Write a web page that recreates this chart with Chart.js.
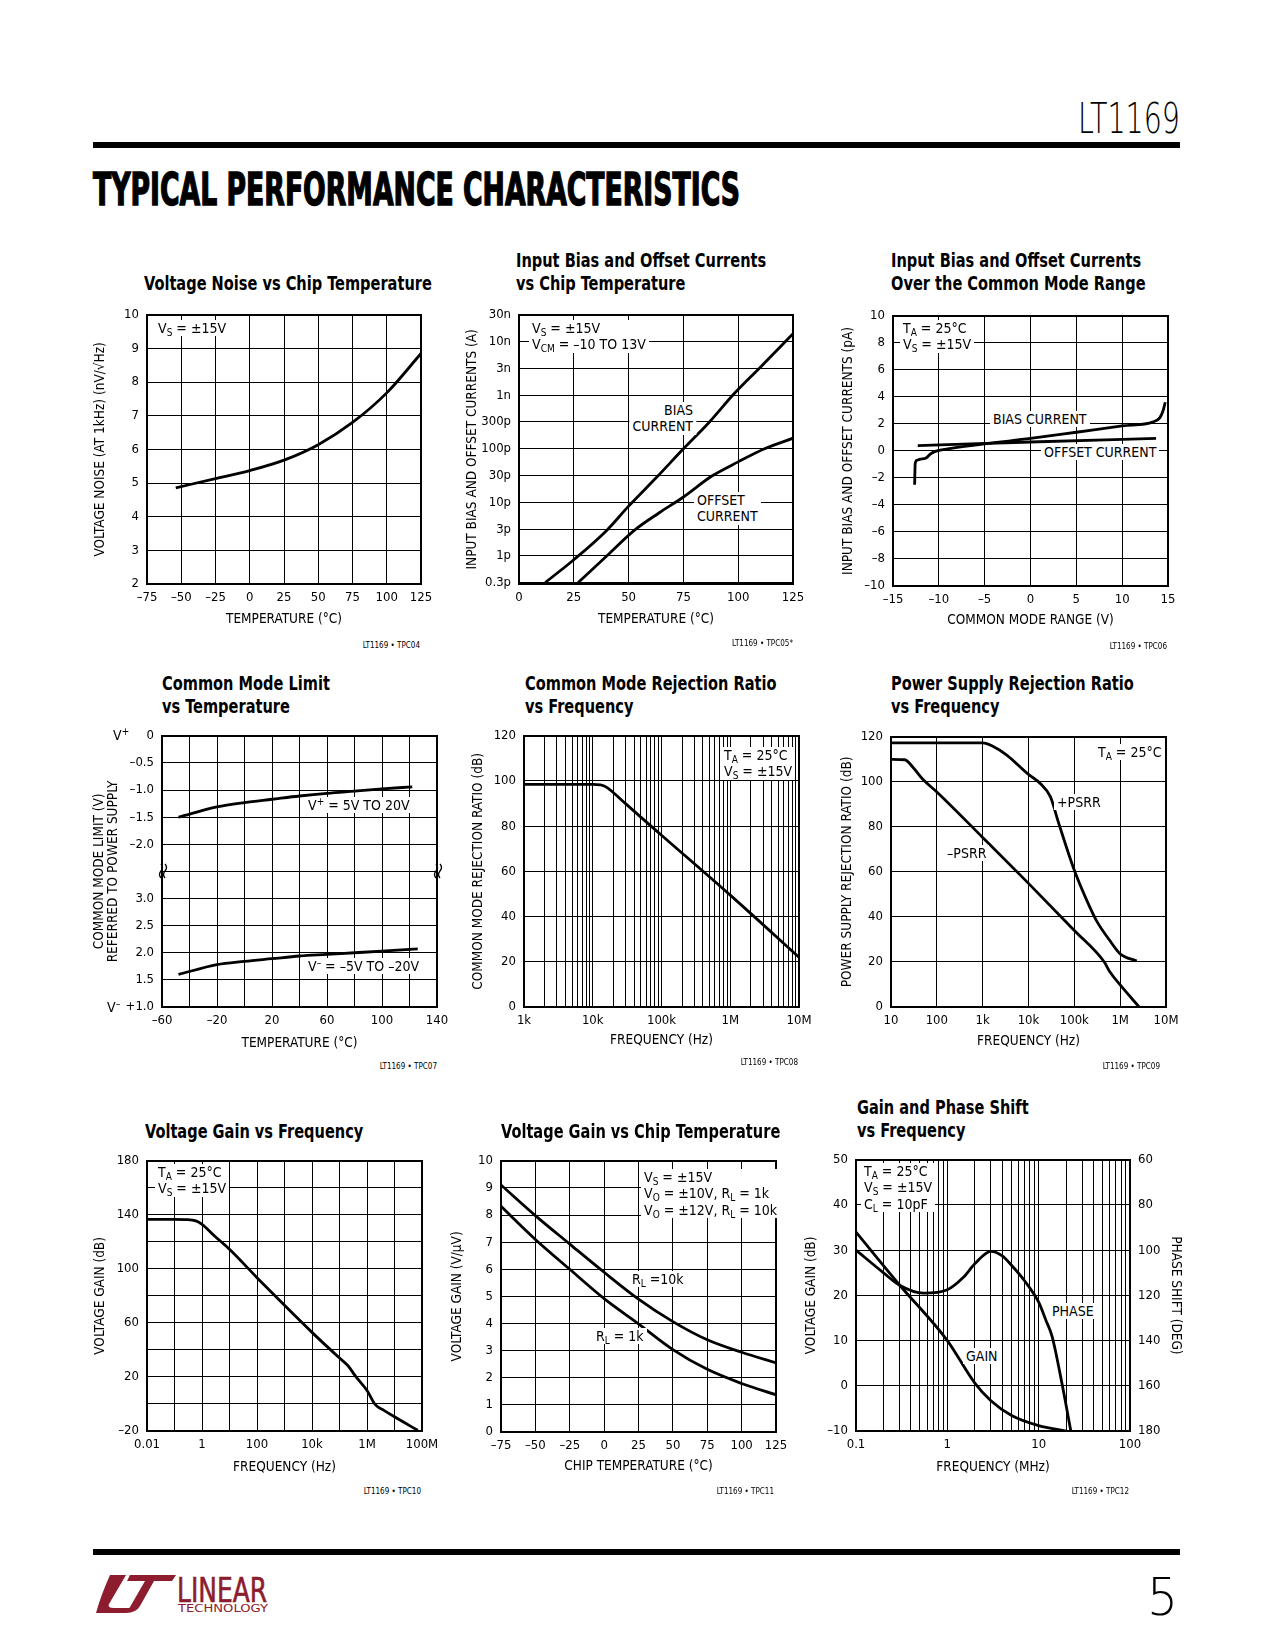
<!DOCTYPE html>
<html lang="en">
<head>
<meta charset="UTF-8">
<title>LT1169 – Typical Performance Characteristics</title>
<script src="https://cdn.jsdelivr.net/npm/chart.js"></script>
<style>
  body { margin: 0; background: #fff; }
  #page { position: relative; width: 1275px; height: 1650px; overflow: hidden; color: #000;
          font-family: "Liberation Sans Narrow", "DejaVu Sans Condensed", "Arial Narrow", sans-serif; }
  canvas { position: absolute; }
  .rule { position: absolute; left: 93px; width: 1087px; height: 6px; background: #000; }
  .ttl { position: absolute; font-weight: bold; font-size: 20px; line-height: 23px; white-space: nowrap;
         transform: scaleX(0.81); transform-origin: left top; }
  .note { position: absolute; font-size: 14px; line-height: 16.5px; background: #fff; padding: 0 3px; white-space: nowrap; }
  .note sub { font-size: 10px; vertical-align: -3px; line-height: 0; }
  .note sup { font-size: 10px; vertical-align: 5px; line-height: 0; }
  .tpc { position: absolute; font-size: 8px; line-height: 10px; white-space: nowrap; transform: translateX(-100%); }
  .fit { position: absolute; display: inline-block; white-space: nowrap; line-height: 1; transform-origin: left top; }
  .thin { font-family: "DejaVu Sans ExtraLight", "DejaVu Sans Light", "DejaVu Sans Condensed", sans-serif; font-weight: 200; }
  .brk { position: absolute; }
</style>
</head>
<body>
<div id="page">
  <div class="rule" style="top:142px"></div>
  <div class="rule" style="top:1549px"></div>
  <span class="fit thin" id="hdr" style="font-size:43px;top:97px;left:1078px">LT1169</span>
  <span class="fit" id="sect" style="font-size:44px;font-weight:bold;top:168px;left:93px;-webkit-text-stroke:1.4px #000">TYPICAL PERFORMANCE CHARACTERISTICS</span>
  <span class="fit thin" id="pnum" style="font-size:52px;top:1571px;left:1147px">5</span>
  <svg style="position:absolute;left:96px;top:1575px" width="80" height="38" viewBox="0 0 80 38">
    <path fill="#8c1c2e" d="M14 0 L30 0 L13 29 Q11 33 18 33 L34 33 L31 38 L0 38 Q5 20 14 0 Z"/>
    <path fill="#8c1c2e" d="M34 0 L80 0 L76 6 L58 6 L44 31 Q40 38 30 38 L34 32 L49 6 L31 6 Z"/>
  </svg>
  <span class="fit" id="lin" style="font-size:34px;top:1573px;left:177px;color:#8c1c2e;-webkit-text-stroke:0.6px #8c1c2e">LINEAR</span>
  <span class="fit" id="tech" style="font-size:11px;top:1603px;left:178px;color:#8c1c2e">TECHNOLOGY</span>
</div>
<script>
// ---------- data ----------
// shared tick sets
const temp25Ticks = [-75, -50, -25, 0, 25, 50, 75, 100, 125];
const temp25Labels = ['–75', '–50', '–25', '0', '25', '50', '75', '100', '125'];
const dbTicks = [0, 20, 40, 60, 80, 100, 120];
const dbLabels = ['0', '20', '40', '60', '80', '100', '120'];

// 1. voltage noise vs chip temperature
const noiseTemp = [-54, -25, 0, 25, 50, 75, 100, 125];
const noiseNv = [4.86, 5.13, 5.37, 5.68, 6.14, 6.8, 7.68, 8.85];
const noiseTicks = [2, 3, 4, 5, 6, 7, 8, 9, 10];
const noiseLabels = ['2', '3', '4', '5', '6', '7', '8', '9', '10'];

// 2. input bias / offset currents vs chip temperature
const biasTemp = [12, 25, 40, 50, 63, 75, 87, 98, 110, 125];
const biasAmps = [0.32e-12, 0.85e-12, 3.0e-12, 8.5e-12, 30e-12, 100e-12, 320e-12, 1.05e-9, 3.3e-9, 14e-9];
const offsTemp = [27, 40, 53, 64, 75, 88, 100, 112, 125];
const offsAmps = [0.32e-12, 1.0e-12, 3.1e-12, 6.4e-12, 12.6e-12, 31e-12, 57e-12, 100e-12, 158e-12];
const curTempTicks = [0, 25, 50, 75, 100, 125];
const curTempLabels = ['0', '25', '50', '75', '100', '125'];
const ampExp = [-12.5, -12, -11.5, -11, -10.5, -10, -9.5, -9, -8.5, -8, -7.5];
const ampLabels = ['0.3p', '1p', '3p', '10p', '30p', '100p', '300p', '1n', '3n', '10n', '30n'];

// 3. bias / offset currents over the common mode range
const cmBiasV = [-12.64, -12.58, -12.4, -12.1, -11.4, -10.9, -10.45, -9.7, -5, 0, 5, 10, 13.4, 14.1, 14.45, 14.7];
const cmBiasPa = [-2.5, -0.95, -0.7, -0.62, -0.53, -0.22, -0.05, 0.07, 0.52, 0.92, 1.38, 1.85, 2.15, 2.45, 2.95, 3.6];
const cmOffsV = [-12.3, 0, 13.7];
const cmOffsPa = [0.39, 0.66, 0.93];
const cmTicks = [-15, -10, -5, 0, 5, 10, 15];
const cmLabels = ['–15', '–10', '–5', '0', '5', '10', '15'];
const paTicks = [-10, -8, -6, -4, -2, 0, 2, 4, 6, 8, 10];
const paLabels = ['–10', '–8', '–6', '–4', '–2', '0', '2', '4', '6', '8', '10'];

// 4. common mode limit vs temperature (upper: from V+, lower: from V-)
const cmlTempHi = [-48, -20, 0, 20, 40, 60, 80, 100, 122];
const cmlHi = [-1.5, -1.31, -1.23, -1.17, -1.11, -1.06, -1.02, -0.98, -0.94];
const cmlTempLo = [-48, -20, 0, 20, 40, 60, 80, 100, 126];
const cmlLo = [1.6, 1.78, 1.84, 1.89, 1.94, 1.97, 2.0, 2.03, 2.07];
const cmlXTicks = [-60, -40, -20, 0, 20, 40, 60, 80, 100, 120, 140];
const cmlXLabels = ['–60', '', '–20', '', '20', '', '60', '', '100', '', '140'];
const cmlRows = [0, 1, 2, 3, 4, 5, 6, 7, 8, 9, 10];
const cmlRowLabels = ['+1.0', '1.5', '2.0', '2.5', '3.0', '', '–2.0', '–1.5', '–1.0', '–0.5', '0'];

// 5. CMRR vs frequency
const cmrrHz = [1e3, 1e4, 1.3e4, 1.6e4, 2e4, 3e4, 5e4, 1e5, 1e6, 1e7];
const cmrrDb = [98.5, 98.5, 98.3, 97.2, 94.8, 90, 84, 76, 49.5, 22];
const cmrrMajor = [1e3, 1e4, 1e5, 1e6, 1e7];
const cmrrMajorLabels = ['1k', '10k', '100k', '1M', '10M'];

// 6. PSRR vs frequency
const psrrPosHz = [10, 100, 1e3, 1.7e3, 3.3e3, 1e4, 1.8e4, 3e4, 4.5e4, 1e5, 1.9e5, 3.1e5, 6e5, 1e6, 2.3e6];
const psrrPosDb = [117.3, 117.3, 117.3, 115.7, 112, 103.3, 99.3, 93.4, 82, 60.7, 47, 38, 29.4, 23.6, 20.4];
const psrrNegHz = [10, 20, 30, 50, 100, 1e3, 1e4, 1e5, 4.5e5, 6e5, 1e6, 2.6e6];
const psrrNegDb = [110, 109.8, 106.5, 101, 95.5, 75.3, 54.9, 34, 20, 15.5, 9.8, 0];
const psrrMajor = [10, 100, 1e3, 1e4, 1e5, 1e6, 1e7];
const psrrMajorLabels = ['10', '100', '1k', '10k', '100k', '1M', '10M'];

// 7. voltage gain vs frequency
const avHz = [0.01, 0.1, 0.3, 0.6, 1, 3, 10, 100, 1e3, 1e4, 1e5, 2e5, 4e5, 1e6, 2e6, 4e6, 1e7, 7e7];
const avDb = [136.7, 136.7, 136.5, 135.5, 133, 124, 114.5, 93.5, 73, 53, 34, 28.5, 20, 10, -0.5, -4.5, -9.5, -19.5];
const avMajor = [0.01, 0.1, 1, 10, 100, 1e3, 1e4, 1e5, 1e6, 1e7, 1e8];
const avMajorLabels = ['0.01', '', '1', '', '100', '', '10k', '', '1M', '', '100M'];
const avTicks = [-20, 0, 20, 40, 60, 80, 100, 120, 140, 160, 180];
const avLabels = ['–20', '', '20', '', '60', '', '100', '', '140', '', '180'];

// 8. voltage gain vs chip temperature (V/uV)
const vgTemp = [-75, -50, -25, 0, 25, 50, 75, 100, 125];
const vg10k = [9.11, 7.98, 6.93, 5.89, 4.9, 4.07, 3.4, 2.94, 2.55];
const vg1k = [8.32, 7.1, 6.0, 4.92, 3.99, 3.04, 2.31, 1.79, 1.37];
const vgTicks = [0, 1, 2, 3, 4, 5, 6, 7, 8, 9, 10];
const vgLabels = ['0', '1', '2', '3', '4', '5', '6', '7', '8', '9', '10'];

// 9. gain and phase shift vs frequency (MHz)
const gpGainMhz = [0.1, 0.3, 1, 2, 3, 5, 10, 20];
const gpGainDb = [34, 22.3, 10, 0.6, -3.3, -6.5, -8.8, -10];
const gpPhaseMhz = [0.1, 0.2, 0.3, 0.55, 1, 1.5, 2, 3, 4, 5, 7, 10, 12, 14, 18, 22.5];
const gpPhaseDeg = [100, 110, 115.5, 119, 117.5, 112, 106, 100.5, 102.5, 106.5, 113.5, 123, 131, 138, 159, 180];
const gpMajor = [0.1, 1, 10, 100];
const gpMajorLabels = ['0.1', '1', '10', '100'];
const gpGainTicks = [-10, 0, 10, 20, 30, 40, 50];
const gpGainLabels = ['–10', '0', '10', '20', '30', '40', '50'];
const gpPhaseTicks = [60, 80, 100, 120, 140, 160, 180];
const gpPhaseLabels = ['60', '80', '100', '120', '140', '160', '180'];

// ---------- helpers ----------
const page = document.getElementById('page');
Chart.defaults.font.family = '"Liberation Sans Narrow", "DejaVu Sans Condensed", "Arial Narrow", sans-serif';
Chart.defaults.color = '#000';

const TICK = 13, AXT = 13.5;

function pts(xs, ys) { return xs.map((x, i) => ({ x: x, y: ys[i] })); }

// decade ticks (optionally with 2..9 minors) between two decades
function logTicks(majors, minor) {
  const out = [];
  majors.forEach((m, i) => {
    out.push(m);
    if (minor && i < majors.length - 1) for (let k = 2; k <= 9; k++) out.push(k * m);
  });
  return out.sort((a, b) => a - b);
}
function logLabels(ticks, majors, labels) {
  return ticks.map(v => {
    const i = majors.findIndex(m => Math.abs(m - v) / m < 1e-6);
    return i >= 0 ? labels[i] : '';
  });
}

function axis(pos, o, size) {
  const lhf = o.titleLH || 1.2;
  const lh = lhf * AXT;
  const pad = pos === 'bottom'
    ? { top: 0, bottom: size - (o.titleDist || 35) - lh / 2 }
    : { top: size - (o.titleDist || 46) - lh / 2, bottom: 0 };
  return {
    type: o.type || 'linear', position: pos, min: o.min, max: o.max, reverse: !!o.reverse,
    afterBuildTicks: s => { s.ticks = o.ticks.map(v => ({ value: v })); },
    afterFit: s => { if (pos === 'bottom') s.height = size; else s.width = size; },
    grid: { display: o.grid !== false, color: '#000', lineWidth: 1, drawTicks: false },
    border: { display: false },
    ticks: { autoSkip: false, maxRotation: 0, minRotation: 0, padding: pos === 'bottom' ? 6 : 8,
             font: { size: TICK }, callback: (v, i) => o.labels[i] },
    title: { display: !!o.title, text: o.title, font: { size: AXT, lineHeight: lhf }, padding: pad }
  };
}

const framePlugin = {
  id: 'frame',
  afterDatasetsDraw(chart) {
    const a = chart.chartArea, ctx = chart.ctx;
    ctx.save();
    ctx.lineWidth = 2;
    ctx.strokeStyle = '#000';
    ctx.strokeRect(Math.round(a.left), Math.round(a.top), Math.round(a.right - a.left), Math.round(a.bottom - a.top));
    ctx.restore();
  }
};

function plot(box, scales, datasets, m) {
  m = Object.assign({ L: 62, B: 50, T: 12, R: 26, rightAxis: false }, m || {});
  const w = box.w + m.L + m.R, h = box.h + m.T + m.B;
  const cv = document.createElement('canvas');
  cv.width = w; cv.height = h;
  cv.style.left = (box.x - m.L) + 'px';
  cv.style.top = (box.y - m.T) + 'px';
  cv.style.width = w + 'px';
  cv.style.height = h + 'px';
  page.appendChild(cv);
  return new Chart(cv, {
    type: 'line',
    data: { datasets: datasets },
    options: {
      responsive: false, animation: false, events: [],
      layout: { padding: { left: 0, top: m.T, right: m.rightAxis ? 0 : m.R, bottom: 0 } },
      plugins: { legend: { display: false }, tooltip: { enabled: false } },
      elements: {
        point: { radius: 0 },
        line: { borderColor: '#000', borderWidth: 2.8, cubicInterpolationMode: 'monotone', fill: false }
      },
      scales: scales
    },
    plugins: [framePlugin]
  });
}

function line(data, axisId) {
  const d = { data: data, borderColor: '#000' };
  if (axisId) d.yAxisID = axisId;
  return d;
}

function title(x, y, lines) {
  const d = document.createElement('div');
  d.className = 'ttl';
  d.style.left = x + 'px';
  d.style.top = (y - 11.5) + 'px';
  d.innerHTML = lines.join('<br>');
  page.appendChild(d);
}
function note(x, y, lines, right) {
  const d = document.createElement('div');
  d.className = 'note';
  d.style.top = (y - 8.25) + 'px';
  if (right) { d.style.left = (x + 3) + 'px'; d.style.transform = 'translateX(-100%)'; d.style.textAlign = 'right'; }
  else d.style.left = (x - 3) + 'px';
  d.innerHTML = lines.join('<br>');
  page.appendChild(d);
}
function tpc(x, y, text) {
  const d = document.createElement('div');
  d.className = 'tpc';
  d.style.left = x + 'px';
  d.style.top = (y - 5) + 'px';
  d.textContent = text;
  page.appendChild(d);
}
function fitTo(id, width) {
  const el = document.getElementById(id);
  const r = el.getBoundingClientRect();
  el.style.transform = 'scaleX(' + (width / r.width) + ')';
}

// ---------- row 1 ----------
plot({ x: 147, y: 311, w: 274, h: 273 }, {
  x: axis('bottom', { min: -75, max: 125, ticks: temp25Ticks, labels: temp25Labels, title: 'TEMPERATURE (°C)' }, 50),
  y: axis('left', { min: 2, max: 10, ticks: noiseTicks, labels: noiseLabels, title: 'VOLTAGE NOISE (AT 1kHz) (nV/√Hz)', titleDist: 47 }, 62)
}, [line(pts(noiseTemp, noiseNv))]);

plot({ x: 519, y: 311, w: 274, h: 273 }, {
  x: axis('bottom', { min: 0, max: 125, ticks: curTempTicks, labels: curTempLabels, title: 'TEMPERATURE (°C)' }, 50),
  y: axis('left', { type: 'logarithmic', min: Math.pow(10, -12.5), max: Math.pow(10, -7.5),
                    ticks: ampExp.map(e => Math.pow(10, e)), labels: ampLabels,
                    title: 'INPUT BIAS AND OFFSET CURRENTS (A)', titleDist: 47 }, 62)
}, [line(pts(biasTemp, biasAmps)), line(pts(offsTemp, offsAmps))]);

plot({ x: 893, y: 312, w: 275, h: 274 }, {
  x: axis('bottom', { min: -15, max: 15, ticks: cmTicks, labels: cmLabels, title: 'COMMON MODE RANGE (V)', titleDist: 34 }, 50),
  y: axis('left', { min: -10, max: 10, ticks: paTicks, labels: paLabels, title: 'INPUT BIAS AND OFFSET CURRENTS (pA)', titleDist: 45 }, 62)
}, [line(pts(cmBiasV, cmBiasPa)), line(pts(cmOffsV, cmOffsPa))]);

// ---------- row 2 ----------
plot({ x: 162, y: 732, w: 275, h: 275 }, {
  x: axis('bottom', { min: -60, max: 140, ticks: cmlXTicks, labels: cmlXLabels, title: 'TEMPERATURE (°C)', titleDist: 36 }, 50),
  y: axis('left', { min: 0, max: 10, ticks: cmlRows, labels: cmlRowLabels,
                    title: ['COMMON MODE LIMIT (V)', 'REFERRED TO POWER SUPPLY'], titleDist: 62.7, titleLH: 1.04 }, 82),
  yHi: { type: 'linear', display: false, min: -5, max: 0 },
  yLo: { type: 'linear', display: false, min: 1, max: 6 }
}, [line(pts(cmlTempHi, cmlHi), 'yHi'), line(pts(cmlTempLo, cmlLo), 'yLo')], { L: 82 });

const cmrrTicks = logTicks(cmrrMajor, true);
plot({ x: 524, y: 732, w: 275, h: 275 }, {
  x: axis('bottom', { type: 'logarithmic', min: 1e3, max: 1e7, ticks: cmrrTicks,
                      labels: logLabels(cmrrTicks, cmrrMajor, cmrrMajorLabels), title: 'FREQUENCY (Hz)', titleDist: 33 }, 50),
  y: axis('left', { min: 0, max: 120, ticks: dbTicks, labels: dbLabels, title: 'COMMON MODE REJECTION RATIO (dB)' }, 62)
}, [line(pts(cmrrHz, cmrrDb))]);

plot({ x: 891, y: 733, w: 275, h: 274 }, {
  x: axis('bottom', { type: 'logarithmic', min: 10, max: 1e7, ticks: psrrMajor, labels: psrrMajorLabels,
                      title: 'FREQUENCY (Hz)', titleDist: 34 }, 50),
  y: axis('left', { min: 0, max: 120, ticks: dbTicks, labels: dbLabels, title: 'POWER SUPPLY REJECTION RATIO (dB)', titleDist: 44 }, 62)
}, [line(pts(psrrPosHz, psrrPosDb)), line(pts(psrrNegHz, psrrNegDb))]);

// ---------- row 3 ----------
plot({ x: 147, y: 1157, w: 275, h: 274 }, {
  x: axis('bottom', { type: 'logarithmic', min: 0.01, max: 1e8, ticks: avMajor, labels: avMajorLabels,
                      title: 'FREQUENCY (Hz)', titleDist: 36 }, 50),
  y: axis('left', { min: -20, max: 180, ticks: avTicks, labels: avLabels, title: 'VOLTAGE GAIN (dB)', titleDist: 47 }, 62)
}, [line(pts(avHz, avDb))]);

plot({ x: 501, y: 1157, w: 275, h: 275 }, {
  x: axis('bottom', { min: -75, max: 125, ticks: temp25Ticks, labels: temp25Labels, title: 'CHIP TEMPERATURE (°C)', titleDist: 34 }, 50),
  y: axis('left', { min: 0, max: 10, ticks: vgTicks, labels: vgLabels, title: 'VOLTAGE GAIN (V/µV)', titleDist: 44 }, 62)
}, [line(pts(vgTemp, vg10k)), line(pts(vgTemp, vg1k))]);

const gpTicks = logTicks(gpMajor, true);
plot({ x: 856, y: 1156, w: 274, h: 275 }, {
  x: axis('bottom', { type: 'logarithmic', min: 0.1, max: 100, ticks: gpTicks,
                      labels: logLabels(gpTicks, gpMajor, gpMajorLabels), title: 'FREQUENCY (MHz)', titleDist: 36 }, 50),
  y: axis('left', { min: -10, max: 50, ticks: gpGainTicks, labels: gpGainLabels, title: 'VOLTAGE GAIN (dB)', titleDist: 45 }, 62),
  y2: axis('right', { min: 60, max: 180, reverse: true, grid: false, ticks: gpPhaseTicks, labels: gpPhaseLabels,
                      title: 'PHASE SHIFT (DEG)', titleDist: 45 }, 62)
}, [line(pts(gpGainMhz, gpGainDb), 'y'), line(pts(gpPhaseMhz, gpPhaseDeg), 'y2')], { R: 62, rightAxis: true });

// ---------- titles, notes, ids ----------
title(144, 283, ['Voltage Noise vs Chip Temperature']);
title(516, 260, ['Input Bias and Offset Currents', 'vs Chip Temperature']);
title(891, 260, ['Input Bias and Offset Currents', 'Over the Common Mode Range']);
title(162, 683, ['Common Mode Limit', 'vs Temperature']);
title(525, 683, ['Common Mode Rejection Ratio', 'vs Frequency']);
title(891, 683, ['Power Supply Rejection Ratio', 'vs Frequency']);
title(145, 1131, ['Voltage Gain vs Frequency']);
title(501, 1131, ['Voltage Gain vs Chip Temperature']);
title(857, 1107, ['Gain and Phase Shift', 'vs Frequency']);

note(158, 328, ['V<sub>S</sub> = ±15V']);
note(532, 328, ['V<sub>S</sub> = ±15V', 'V<sub>CM</sub> = –10 TO 13V']);
note(693, 410, ['BIAS', 'CURRENT'], true);
note(697, 500, ['OFFSET', 'CURRENT']);
note(903, 328, ['T<sub>A</sub> = 25°C', 'V<sub>S</sub> = ±15V']);
note(993, 419, ['BIAS CURRENT']);
note(1044, 452, ['OFFSET CURRENT']);
note(308, 805, ['V<sup>+</sup> = 5V TO 20V']);
note(308, 966, ['V<sup>–</sup> = –5V TO –20V']);
note(113, 735, ['V<sup>+</sup>']);
note(107, 1007, ['V<sup>–</sup>']);
note(724, 755, ['T<sub>A</sub> = 25°C', 'V<sub>S</sub> = ±15V']);
note(1098, 752, ['T<sub>A</sub> = 25°C']);
note(1057, 802, ['+PSRR']);
note(947, 853, ['–PSRR']);
note(158, 1172, ['T<sub>A</sub> = 25°C', 'V<sub>S</sub> = ±15V']);
note(644, 1177, ['V<sub>S</sub> = ±15V', 'V<sub>O</sub> = ±10V, R<sub>L</sub> = 1k', 'V<sub>O</sub> = ±12V, R<sub>L</sub> = 10k']);
note(632, 1279, ['R<sub>L</sub> =10k']);
note(596, 1336, ['R<sub>L</sub> = 1k']);
note(864, 1171, ['T<sub>A</sub> = 25°C', 'V<sub>S</sub> = ±15V', 'C<sub>L</sub> = 10pF']);
note(1052, 1311, ['PHASE']);
note(966, 1356, ['GAIN']);

// axis break marks (two small wavy strokes) on the common mode limit plot
[[163, 871], [438, 871]].forEach(p => {
  const d = document.createElement('div');
  d.className = 'brk';
  d.style.left = (p[0] - 5) + 'px';
  d.style.top = (p[1] - 8) + 'px';
  d.innerHTML = '<svg width="10" height="16" viewBox="0 0 10 16"><g fill="none" stroke="#000" stroke-width="1.3">' +
    '<path d="M3 1 Q6 4.5 3 8 Q0 11.5 3 15"/><path d="M7 1 Q10 4.5 7 8 Q4 11.5 7 15"/></g></svg>';
  page.appendChild(d);
});

tpc(420, 646, 'LT1169 • TPC04');
tpc(793, 644, 'LT1169 • TPC05*');
tpc(1167, 647, 'LT1169 • TPC06');
tpc(437, 1067, 'LT1169 • TPC07');
tpc(798, 1063, 'LT1169 • TPC08');
tpc(1160, 1067, 'LT1169 • TPC09');
tpc(421, 1492, 'LT1169 • TPC10');
tpc(774, 1492, 'LT1169 • TPC11');
tpc(1129, 1492, 'LT1169 • TPC12');

fitTo('hdr', 102);
fitTo('sect', 647);
fitTo('pnum', 31);
fitTo('lin', 90);
fitTo('tech', 90);
</script>
</body>
</html>
